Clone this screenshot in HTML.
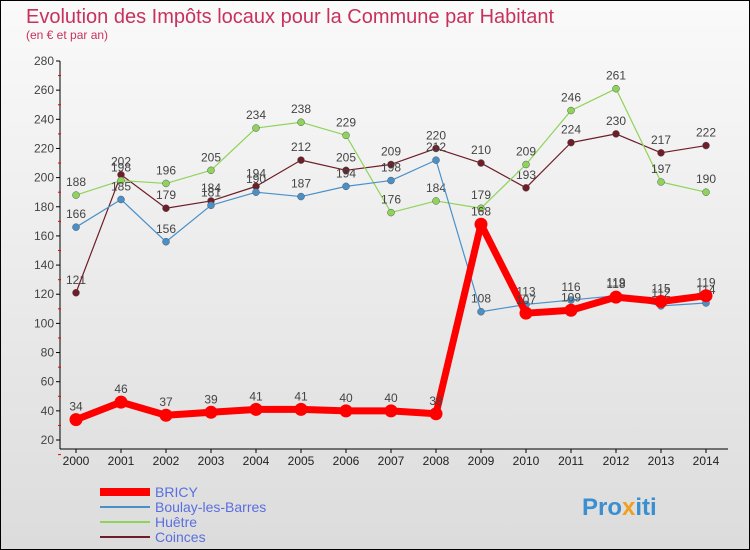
<!DOCTYPE html>
<html><head><meta charset="utf-8"><style>
body{margin:0;width:750px;height:550px;overflow:hidden;font-family:"Liberation Sans",sans-serif}
#c{position:absolute;left:0;top:0;width:748px;height:548px;border:1px solid #000;background:linear-gradient(#fafafa,#dcdcdc)}
</style></head><body>
<div id="c"></div>
<svg id="s" width="750" height="550" style="position:absolute;left:0;top:0">
<text x="26" y="23" font-size="20" fill="#c8325a">Evolution des Impôts locaux pour la Commune par Habitant</text>
<text x="26" y="39" font-size="12" fill="#c8325a">(en € et par an)</text>
<g id="ax"></g><g id="pl"></g>
<g font-size="14">
<line x1="100" y1="492" x2="150" y2="492" stroke="#f00" stroke-width="8"/>
<text x="155" y="497" fill="#5a6ee0">BRICY</text>
<line x1="100" y1="507" x2="150" y2="507" stroke="#4a90c8" stroke-width="2"/>
<text x="155" y="512" fill="#5a6ee0">Boulay-les-Barres</text>
<line x1="100" y1="522" x2="150" y2="522" stroke="#8fd45a" stroke-width="2"/>
<text x="155" y="527" fill="#5a6ee0">Huêtre</text>
<line x1="100" y1="537" x2="150" y2="537" stroke="#6e1e28" stroke-width="2"/>
<text x="155" y="542" fill="#5a6ee0">Coinces</text>
</g>
<text x="582" y="515" font-size="24" font-weight="bold" fill="#3a8fd0">Pro<tspan fill="#f0a020">x</tspan>iti</text>
</svg>
<script>
const years=[2000,2001,2002,2003,2004,2005,2006,2007,2008,2009,2010,2011,2012,2013,2014];
const yTicks=[20,40,60,80,100,120,140,160,180,200,220,240,260,280];
const bricy=[34,46,37,39,41,41,40,40,38,168,107,109,118,115,119];
const boulay=[166,185,156,181,190,187,194,198,212,108,113,116,119,112,114];
const huetre=[188,198,196,205,234,238,229,176,184,179,209,246,261,197,190];
const coinces=[121,202,179,184,194,212,205,209,220,210,193,224,230,217,222];
const NS='http://www.w3.org/2000/svg';
const X=i=>76+i*45;
const Y=v=>440-(v-20)*(379/260);
function mk(t,a,p){const e=document.createElementNS(NS,t);for(const k in a)e.setAttribute(k,a[k]);p.appendChild(e);return e;}
const ax=document.getElementById('ax'),pl=document.getElementById('pl');
const yl=mk('line',{x1:60,y1:61,x2:60,y2:449,stroke:'#000'},ax);


const xl=mk('line',{x1:60,y1:449,x2:728,y2:449,stroke:'#000'},ax);


yTicks.forEach(v=>{const y=Y(v);
mk('line',{x1:56,y1:y,x2:60,y2:y,stroke:'#000'},ax);
mk('line',{x1:58,y1:y+14.6,x2:61,y2:y+14.6,stroke:'#e00'},ax);
const t=mk('text',{x:54,y:y+4,'font-size':12,fill:'#444','text-anchor':'end'},ax);t.textContent=v;

});
years.forEach((yr,i)=>{mk('line',{x1:X(i),y1:449,x2:X(i),y2:453,stroke:'#000'},ax);
const t=mk('text',{x:X(i),y:465,'font-size':12,fill:'#222','text-anchor':'middle'},ax);t.textContent=yr;

});
function series(d,col,w,r,name,lblCol){
const g=mk('g',{},pl);


mk('polyline',{points:d.map((v,i)=>X(i)+','+Y(v)).join(' '),fill:'none',stroke:col,'stroke-width':w,'stroke-linejoin':'round'},g);
d.forEach((v,i)=>{const c=mk('circle',{cx:X(i),cy:Y(v),r:r,fill:col,stroke:w>3?'none':'#555','stroke-width':0.5},g);


const t=mk('text',{x:X(i),y:Y(v)-9,'font-size':12,fill:'#444','text-anchor':'middle'},g);t.textContent=v;

});}
series(coinces,'#6e1e28',1.2,3.5,'coinces');
series(huetre,'#8fd45a',1.2,3.5,'huetre');
series(boulay,'#4a90c8',1.2,3.5,'boulay');
series(bricy,'#f00',7,6.5,'bricy');
</script>
</body></html>
